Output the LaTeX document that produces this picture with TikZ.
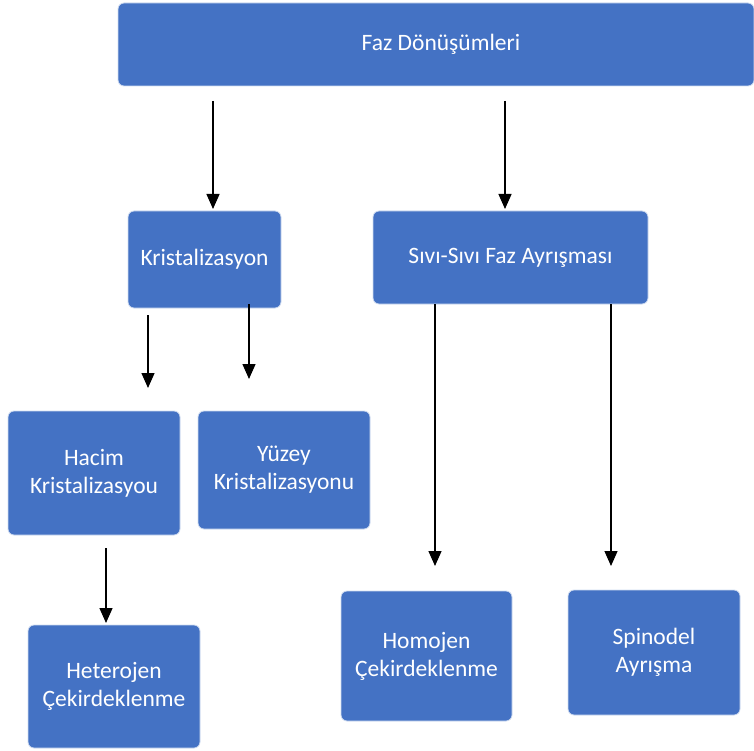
\documentclass[tikz,border=0pt]{standalone}
\usepackage{fontspec}
\setmainfont{Carlito}
\usetikzlibrary{arrows.meta}
\definecolor{boxblue}{HTML}{4472C4}
\tikzset{
  box/.style={fill=boxblue, draw=white!75!boxblue, line width=0.8pt, rounded corners=6pt,
    text=white, align=center, font=\fontsize{23.5}{28}\selectfont, inner sep=0pt},
  conn/.style={-{Triangle[width=13pt,length=15pt]}, line width=1.3pt, black}
}
\begin{document}
\begin{tikzpicture}[x=1pt,y=-1pt]
\useasboundingbox (0,0) rectangle (754,751);
\node[box, minimum width=636pt, minimum height=83pt] (top) at (436,44.5) {};
\node[text=white, font=\fontsize{23.5}{28}\selectfont, inner sep=0pt] (toptext) at (441,44.5) {Faz Dönüşümleri};
\node[box, minimum width=153pt, minimum height=97pt] (kris) at (204.5,259.5) {Kristalizasyon};
\node[box, minimum width=275pt, minimum height=93pt] (sivi) at (510.5,257.5) {Sıvı-Sıvı Faz Ayrışması};
\node[box, minimum width=172pt, minimum height=124pt] (hacim) at (94,473) {Hacim\\Kristalizasyou};
\node[box, minimum width=172pt, minimum height=118pt] (yuzey) at (284,470) {Yüzey\\Kristalizasyonu};
\node[box, minimum width=172pt, minimum height=123pt] (hetero) at (114,686.5) {Heterojen\\Çekirdeklenme};
\node[box, minimum width=171pt, minimum height=130pt] (homo) at (426.5,656) {Homojen\\Çekirdeklenme};
\node[box, minimum width=172pt, minimum height=125pt] (spino) at (654,652.5) {Spinodel\\Ayrışma};
% connector ends
\coordinate (a1s) at (213,101); \coordinate (a1e) at (213,209);
\coordinate (a2s) at (505,101); \coordinate (a2e) at (505,209);
\coordinate (a3s) at (148,315); \coordinate (a3e) at (148,388);
\coordinate (a4s) at (249,304); \coordinate (a4e) at (249,379);
\coordinate (a5s) at (106,548); \coordinate (a5e) at (106,623);
\coordinate (a6e) at (435,566);
\coordinate (a7e) at (611,566);
\draw[conn] (a1s) -- (a1e);
\draw[conn] (a2s) -- (a2e);
\draw[conn] (a3s) -- (a3e);
\draw[conn] (a4s) -- (a4e);
\draw[conn] (a5s) -- (a5e);
\draw[conn] (sivi.south -| a6e) -- (a6e);
\draw[conn] (sivi.south -| a7e) -- (a7e);
\end{tikzpicture}
\end{document}
